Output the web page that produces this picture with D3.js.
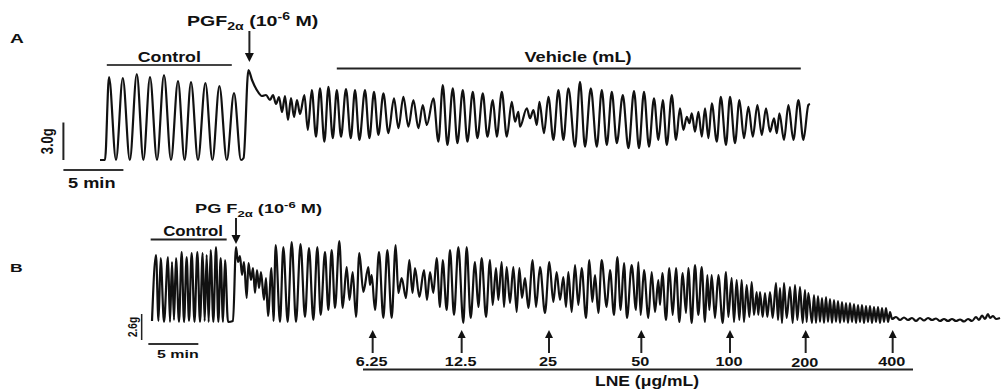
<!DOCTYPE html>
<html><head><meta charset="utf-8">
<script src="https://cdn.jsdelivr.net/npm/d3@7/dist/d3.min.js"></script>
<style>body{margin:0;background:#fff}svg{display:block}text{font-family:"Liberation Sans",Arial,sans-serif;font-weight:bold;fill:#111}</style>
</head><body><svg id="c" width="1005" height="390"></svg>
<script>
// ---- Panel A trace: [time (s), tension (g)] at turning points ----
const traceA = [[0,0],[25,0],[45,6.64],[80,0],[114,6.56],[149,0],[184,6.88],[217,0],[250,6.64],[285,0],[320,6.8],[355,0],[390,6.32],[423,0],[455,6.24],[490,0],[527,6.16],[562,0],[597,5.92],[634,0],[670,5.36],[705,0],[718,0.16],[742,7.2],[760,6.4],[784,5.6],[810,5.12],[830,5.2],[850,4.8],[865,5.2],[880,4.48],[895,5.04],[910,3.84],[925,5.12],[940,3.2],[955,4.96],[970,3.44],[985,4.8],[1000,3.68],
[1022,5.2],[1039,2.4],[1059,5.6],[1080,1.86],[1100,5.74],[1122,1.46],[1142,5.86],[1164,1.74],[1184,5.6],[1205,1.86],[1230,5.68],[1254,1.74],[1275,5.6],[1297,1.6],[1325,5.6],[1347,1.74],[1370,5.46],[1392,2.0],[1417,5.34],[1442,2.14],[1470,4.94],[1492,2.54],[1517,5.06],[1542,2.66],[1567,4.8],[1592,2.54],[1614,4.4],[1634,2.8],[1667,4.94],[1692,1.46],[1714,6.0],[1737,1.2],[1764,5.74],[1787,1.34],[1814,5.6],[1837,1.46],[1864,5.46],[1887,1.74],[1914,5.34],[1937,1.86],[1964,4.8],[1984,1.86],[2009,5.46],[2034,1.86],[2059,4.66],[2075,3.06],[2092,3.86],[2100,2.66],[2134,4.14],[2150,3.34],[2167,4.0],[2184,2.8],[2197,4.66],[2220,2.14],[2242,5.06],[2267,1.6],[2292,5.6],[2317,1.6],[2342,5.74],[2375,1.06],[2400,6.26],[2425,1.06],[2454,5.74],[2484,1.06],[2509,5.6],[2534,1.2],[2559,5.46],[2584,1.34],[2614,5.2],[2642,0.94],[2670,5.52],[2695,0.94],[2720,5.46],[2745,1.06],[2770,4.94],[2792,1.6],[2814,4.8],[2834,1.2],[2859,5.2],[2880,1.6],[2900,4.14],[2917,2.4],[2934,3.46],[2947,2.94],[2959,3.74],[2975,2.26],[2992,3.86],[3009,1.86],[3025,4.14],[3042,1.74],[3059,4.54],[3084,1.46],[3104,5.06],[3130,1.2],[3150,5.06],[3175,1.34],[3197,4.8],[3220,1.74],[3242,4.26],[3264,1.86],[3287,4.4],[3309,2.0],[3330,4.14],[3350,2.26],[3370,3.34],[3384,2.14],[3397,3.74],[3420,1.6],[3442,4.4],[3467,1.6],[3492,4.8],[3517,1.6],[3542,4.4],[3550,4.48]];

// ---- Panel B trace: [time (s), tension (g)] at turning points ----
const traceB = [[0,0.4],[24,7.0],[39,0.4],[52,6.7],[72,0.3],[96,6.8],[108,0.3],[120,6.3],[132,0.5],[144,6.7],[162,0.3],[178,7.3],[192,0.3],[208,6.8],[222,0.4],[238,7.2],[255,0.3],[272,7.3],[288,0.3],[304,7.2],[316,0.4],[328,7.0],[340,0.3],[352,7.5],[368,0.3],[384,7.8],[398,0.3],[412,6.7],[426,0.3],[438,6.5],[456,0.3],[486,0.4],
[504,7.8],[516,6.3],[528,6.9],[540,5.0],[552,6.3],[568,2.7],[579,6.2],[594,4.5],[606,5.7],[618,3.2],[630,5.5],[642,3.7],[654,5.3],[672,2.5],[684,4.7],[696,0.9],[717,5.7],[729,0.4],
[742,8.0],[768,0.3],[788,7.8],[814,0.3],[838,8.3],[864,0.3],[891,8.1],[918,0.8],[942,7.7],[968,0.5],[992,7.8],[1012,1.0],[1038,7.3],[1058,1.5],[1078,7.5],[1098,1.7],[1124,8.4],[1144,1.7],[1168,5.8],[1185,2.5],[1204,5.3],[1224,0.8],[1244,7.2],[1268,3.3],[1298,5.8],[1308,4.0],[1318,5.0],[1338,1.5],[1362,7.3],[1388,0.7],[1412,7.5],[1438,0.7],[1462,8.0],[1478,3.2],[1498,4.7],[1524,2.7],[1544,6.5],[1563,3.2],[1578,5.7],[1604,2.8],[1632,5.5],[1650,2.5],[1668,5.3],[1688,3.2],[1708,6.7],[1728,1.8],[1744,6.5],[1768,1.5],[1788,7.5],[1812,1.0],[1838,7.8],[1868,0.2],[1888,7.8],
[1912,0.7],[1938,6.3],[1958,1.8],[1978,6.7],[2004,0.8],[2028,6.5],[2044,2.0],[2064,5.7],[2078,2.5],[2098,6.3],[2112,1.8],[2128,5.8],[2148,2.2],[2168,5.8],[2188,1.3],[2204,5.7],[2220,2.7],[2238,4.7],[2258,1.7],[2284,6.5],[2304,1.8],[2328,5.8],[2358,1.2],[2384,6.3],[2408,2.3],[2428,5.3],[2448,2.5],[2468,4.8],[2484,1.8],[2498,5.3],[2518,1.3],[2538,6.0],[2558,2.0],[2578,5.7],[2604,0.7],[2624,6.5],[2642,2.3],[2658,5.0],[2678,1.2],[2698,6.5],[2728,1.8],[2748,5.5],[2772,1.0],[2792,6.8],[2812,1.5],[2832,6.2],
[2850,0.7],[2878,6.0],[2904,1.5],[2918,6.3],[2932,1.0],[2952,5.5],[2978,0.7],[2998,5.3],[3018,1.3],[3038,4.5],[3048,2.0],[3062,5.2],[3084,0.5],[3104,5.7],[3124,1.0],[3144,5.7],[3164,0.3],[3184,5.2],[3204,1.2],[3218,5.7],[3238,0.2],[3258,6.0],[3278,1.0],[3298,5.8],[3318,0.3],[3332,5.0],[3344,1.5],[3358,5.0],[3378,0.7],[3398,5.0],[3424,0.2],[3444,5.3],[3458,0.8],[3478,4.7],[3492,0.3],[3508,4.5],[3524,0.5],[3538,4.5],[3552,0.3],[3568,4.0],[3584,0.8],[3598,4.3],[3612,1.0],[3628,3.3],[3638,1.0],[3648,3.3],[3664,0.8],[3678,3.2],[3692,0.8],[3708,3.3],[3724,0.7],[3744,4.2],[3756,0.5],[3768,3.7],[3780,0.2],[3792,4.2],[3808,0.7],[3828,3.8],[3844,0.2],[3858,4.0],[3872,0.5],[3888,3.8],[3904,0.2],[3918,3.5],[3928,0.3],[3938,3.2],
[3960,0.2],[3972,3.0],[3984,0.2],[3996,2.9],[4008,0.3],[4020,2.7],[4032,0.2],[4044,2.8],[4056,0.3],[4068,2.6],[4080,0.2],[4092,2.5],[4104,0.3],[4116,2.4],[4128,0.2],[4140,2.3],[4152,0.3],[4164,2.2],[4176,0.2],[4188,2.2],[4200,0.3],[4212,2.1],[4224,0.2],[4236,2.0],[4248,0.3],[4260,2.0],[4272,0.2],[4284,1.9],[4296,0.3],[4308,1.9],[4320,0.2],[4332,1.8],[4344,0.3],[4356,1.8],[4368,0.2],[4380,1.7],[4392,0.3],[4404,1.7],[4416,0.3],[4428,1.3],
[4440,0.6],[4464,0.8],[4488,0.5],[4512,0.75],[4536,0.5],[4560,0.7],[4584,0.4],[4608,0.7],[4632,0.45],[4656,0.7],[4680,0.5],[4704,0.65],[4728,0.4],[4752,0.6],[4776,0.4],[4800,0.6],[4824,0.4],[4848,0.55],[4872,0.35],[4896,0.6],[4920,0.4],[4944,0.8],[4962,0.5],[4980,0.95],[4998,0.6],[5016,1.1],[5028,0.7],[5046,0.9],[5064,0.6],[5088,0.7]];

// ---- Annotations (times in s) ----
const pgfTimeA = 747, pgfTimeB = 504;
const controlA = [34, 659], vehicleA = [1184, 3504];
const controlB = [-8, 448], lneSpan = [1266, 4566];
const lneDoseTimes = [1324, 1858, 2382, 2936, 3468, 3922, 4444];
const lneDoseLabels = ["6.25", "12.5", "25", "50", "100", "200", "400"];
const scaleA = {g: 3.0, s: 300, label: "3.0g"};
const scaleB = {g: 2.6, s: 300, label: "2.6g"};

const svg = d3.select("#c");
const xA = d3.scaleLinear().domain([0, 3540]).range([100, 808]);
const yA = d3.scaleLinear().domain([0, 8]).range([160, 60]);
const xB = d3.scaleLinear().domain([0, 5088]).range([152, 1000]);
const yB = d3.scaleLinear().domain([0, 8]).range([325, 245]);

function trace(data, x, y) {
  svg.append("path").datum(data)
    .attr("fill", "none").attr("stroke", "#111").attr("stroke-width", 2.2)
    .attr("stroke-linejoin", "round")
    .attr("d", d3.line().x(d => x(d[0])).y(d => y(d[1])).curve(d3.curveMonotoneX));
}
trace(traceA, xA, yA);
trace(traceB, xB, yB);

function hline(x1, x2, y, w, col) {
  svg.append("line").attr("x1", x1).attr("x2", x2).attr("y1", y).attr("y2", y)
    .attr("stroke", col || "#333").attr("stroke-width", w || 2);
}
function vline(x, y1, y2, w) {
  svg.append("line").attr("x1", x).attr("x2", x).attr("y1", y1).attr("y2", y2)
    .attr("stroke", "#222").attr("stroke-width", w || 2);
}
function arrowDown(x, y1, y2) {
  vline(x, y1, y2 - 7, 2);
  svg.append("path").attr("d", `M${x-4.5},${y2-9}L${x+4.5},${y2-9}L${x},${y2}Z`).attr("fill", "#111");
}
function arrowUp(x, y1, y2) { // y1 bottom, y2 tip
  vline(x, y1, y2 + 7, 2);
  svg.append("path").attr("d", `M${x-4},${y2+8}L${x+4},${y2+8}L${x},${y2}Z`).attr("fill", "#111");
}
// horizontally stretched text (the source figure's lettering is wide)
function text(x, y, s, size, anchor, sx) {
  return svg.append("text").attr("transform", `translate(${x},${y}) scale(${sx || 1.3},1)`)
    .attr("font-size", size).attr("text-anchor", anchor || "middle").text(s);
}
function pgfLabel(x, y, prefix, size, sx) {
  const t = svg.append("text").attr("transform", `translate(${x},${y}) scale(${sx},1)`).attr("font-size", size);
  t.append("tspan").text(prefix);
  t.append("tspan").attr("font-size", size * 0.72).attr("dy", size * 0.32).text("2α");
  t.append("tspan").attr("dy", -size * 0.32).text(" (10");
  t.append("tspan").attr("font-size", size * 0.72).attr("dy", -size * 0.4).text("-6");
  t.append("tspan").attr("dy", size * 0.4).text(" M)");
}

// Panel A annotations
text(10, 43, "A", 12, "start", 1.6);
pgfLabel(187, 26, "PGF", 14, 1.4);
arrowDown(xA(pgfTimeA), 31, 62);
hline(xA(controlA[0]), xA(controlA[1]), 65, 2, "#444");
text((xA(controlA[0]) + xA(controlA[1])) / 2, 62, "Control", 14, "middle", 1.27);
hline(xA(vehicleA[0]), xA(vehicleA[1]), 68.5, 2, "#222");
text(578, 61.5, "Vehicle (mL)", 14, "middle", 1.3);
// scale bars A
const sbxA = xA(-183);
vline(sbxA, yA(0), yA(scaleA.g), 2);
hline(sbxA, xA(-183 + scaleA.s), 170, 2, "#333");
svg.append("text").attr("transform", `translate(53,${(yA(0) + yA(scaleA.g)) / 2}) scale(1.3,1) rotate(-90)`)
  .attr("font-size", 13).attr("font-weight", "normal").attr("text-anchor", "middle").text(scaleA.label);
text(68, 188, "5 min", 14, "start", 1.3);

// Panel B annotations
text(10, 272, "B", 11, "start", 1.6);
pgfLabel(195, 213, "PG F", 13, 1.4);
arrowDown(xB(pgfTimeB), 218, 244);
hline(xB(controlB[0]), xB(controlB[1]), 239.5, 2, "#222");
text(193, 236, "Control", 14, "middle", 1.2);
const sbxB = xB(-62);
vline(sbxB, yB(0) + 15, yB(scaleB.g) + 15, 1.5);
hline(xB(-22), xB(-22 + scaleB.s), 344, 2, "#333");
svg.append("text").attr("transform", `translate(137,${(yB(0) + yB(scaleB.g)) / 2 + 15}) scale(1.2,1) rotate(-90)`)
  .attr("font-size", 10).attr("font-weight", "normal").attr("text-anchor", "middle").text(scaleB.label);
text(157, 358, "5 min", 11, "start", 1.45);
lneDoseTimes.forEach((t, i) => {
  arrowUp(xB(t), 353, 330);
  text(xB(t) - 1, i === 5 ? 367 : 366, lneDoseLabels[i], 12.5, "middle", 1.3);
});
hline(xB(lneSpan[0]), xB(lneSpan[1]), 369.5, 2, "#222");
text(647, 386, "LNE (μg/mL)", 14, "middle", 1.25);
</script></body></html>
